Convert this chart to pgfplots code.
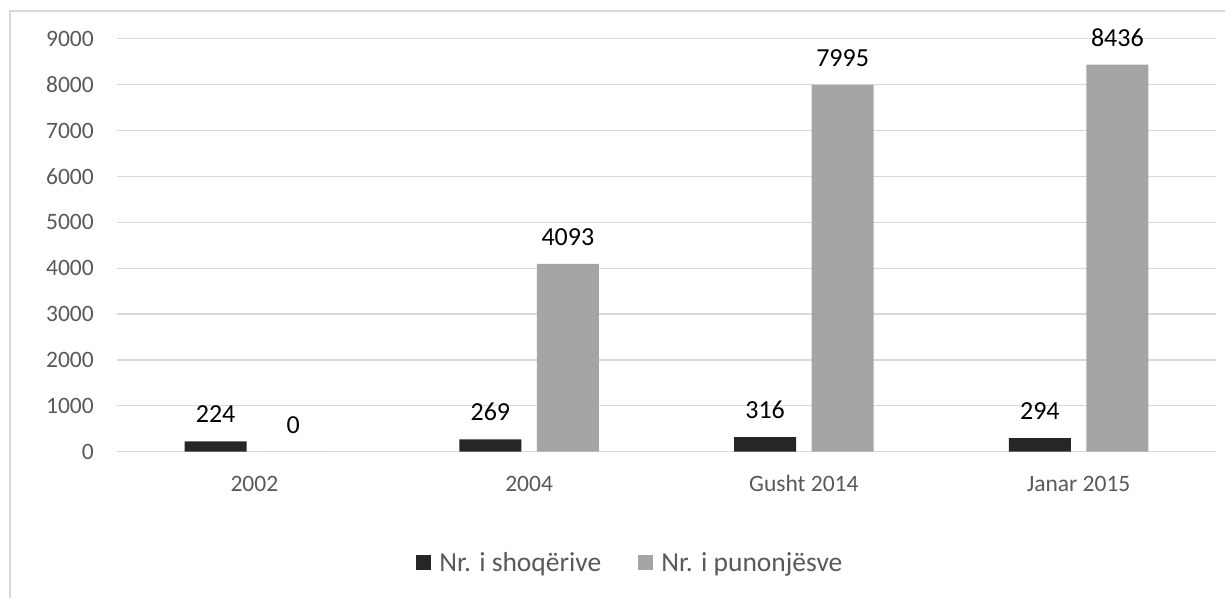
\documentclass[border=0pt]{standalone}
\usepackage{pgfplots}
\pgfplotsset{compat=1.18}
\usepackage{fontspec}
\setmainfont{Carlito}
\definecolor{barblack}{HTML}{262626}
\definecolor{bargray}{HTML}{A5A5A5}
\definecolor{ticktext}{HTML}{595959}
\definecolor{gridc}{HTML}{D9D9D9}
\begin{document}
\begin{tikzpicture}[x=1bp,y=1bp]
\useasboundingbox (0,0) rectangle (1225,598);
\draw[gridc, line width=1.2bp] (10,0) -- (10,587) -- (1226,587);
\begin{axis}[
  at={(117bp,146.3bp)}, anchor=south west,
  scale only axis, width=1099bp, height=413bp,
  ybar=15.5bp, bar width=62bp,
  xmin=-0.5, xmax=3.5, ymin=0, ymax=9000,
  xtick={0,1,2,3},
  xticklabels={2002,2004,Gusht 2014,Janar 2015},
  ytick={0,1000,...,9000},
  scaled y ticks=false,
  /pgf/number format/.cd, 1000 sep={}, assume math mode=true, /pgfplots/.cd,
  axis line style={draw=none},
  major tick length=0pt,
  ymajorgrids, grid style={gridc, line width=1.2bp},
  tick label style={text=ticktext, font=\fontsize{23.5bp}{28bp}\selectfont},
  xticklabel style={anchor=base, inner sep=0pt, yshift=-40bp},
  yticklabel style={anchor=east, inner sep=0pt, xshift=-23bp},
  nodes near coords,
  every node near coord/.append style={anchor=base, yshift=18.5bp, inner sep=0pt, text=black, font=\fontsize{26bp}{30bp}\selectfont},
  legend columns=2,
  legend style={at={(0.4663,-0.2695)}, anchor=center, draw=none, fill=none, inner sep=0pt,
    font=\fontsize{27.5bp}{31bp}\selectfont, text=ticktext,
    nodes={inner sep=0pt},
    /tikz/every odd column/.append style={column sep=8bp},
    /tikz/every even column/.append style={column sep=37bp}},
  legend image code/.code={\fill[#1, draw=none] (0bp,-7.5bp) rectangle (15bp,7.5bp);},
]
\addplot[fill=barblack, draw=none] coordinates {(0,224) (1,269) (2,316) (3,294)};
\addlegendentry{Nr. i shoqërive}
\addplot[fill=bargray, draw=none] coordinates {(0,0) (1,4093) (2,7995) (3,8436)};
\addlegendentry{Nr. i punonjësve}
\end{axis}
\end{tikzpicture}
\end{document}
